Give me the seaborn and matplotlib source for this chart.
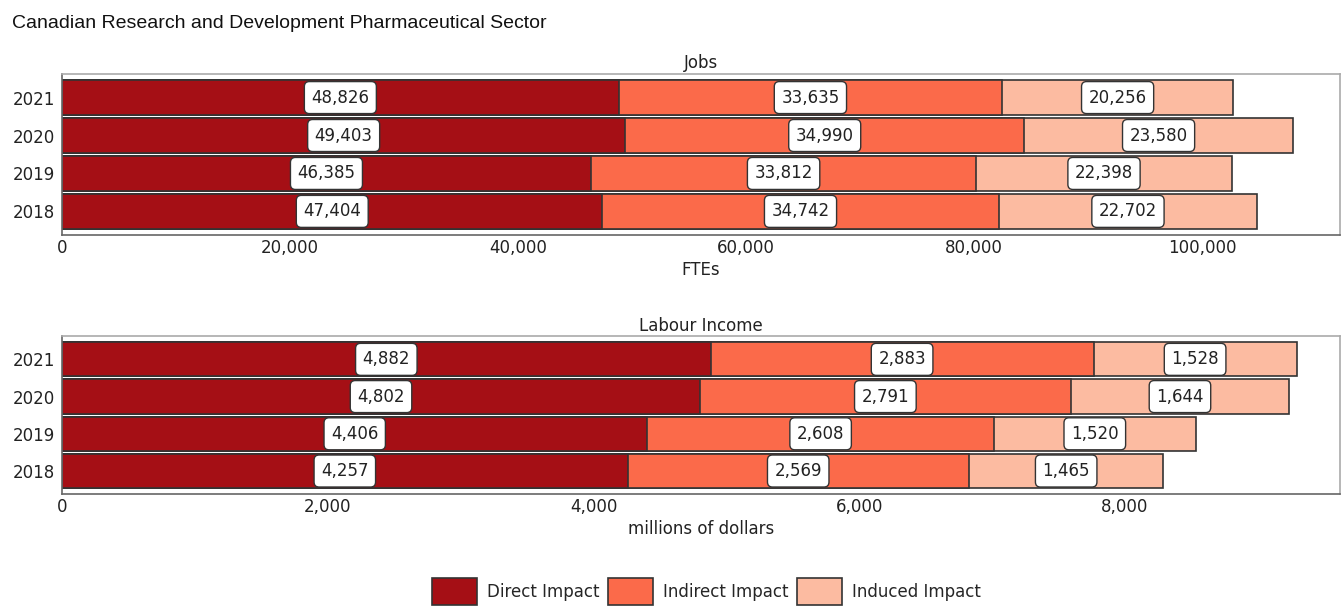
import numpy as np
import pandas as pd
import matplotlib
matplotlib.use("Agg")
import matplotlib.pyplot as plt
from matplotlib.patches import Patch
import seaborn as sns

years = ["2021", "2020", "2019", "2018"]
components = ["Direct Impact", "Indirect Impact", "Induced Impact"]
colors = ["#A50F15", "#FB6A4A", "#FCBBA1"]

jobs_direct = [48826, 49403, 46385, 47404]
jobs_indirect = [33635, 34990, 33812, 34742]
jobs_induced = [20256, 23580, 22398, 22702]

income_direct = [4882, 4802, 4406, 4257]
income_indirect = [2883, 2791, 2608, 2569]
income_induced = [1528, 1644, 1520, 1465]

jobs_ticks = [0, 20000, 40000, 60000, 80000, 100000]
income_ticks = [0, 2000, 4000, 6000, 8000]

sns.set_theme(style="white")
plt.rcParams["font.family"] = ["DejaVu Sans"]

fig = plt.figure(figsize=(13.43, 6.07), dpi=100)
ax_jobs = fig.add_axes([0.0462, 0.613, 0.9516, 0.265])
ax_inc = fig.add_axes([0.0462, 0.186, 0.9516, 0.260])


def stacked(ax, parts, title, xlabel, ticks, xmax):
    df = pd.DataFrame({"year": years})
    cum = np.zeros(len(years))
    lefts = []
    for name, vals in zip(components, parts):
        lefts.append(cum.copy())
        cum = cum + np.array(vals)
        df[name] = cum
    # draw cumulative totals back to front so each segment shows on top
    for name, col in reversed(list(zip(components, colors))):
        sns.barplot(data=df, x=name, y="year", order=years, color=col,
                    orient="h", width=0.92, edgecolor="#333333",
                    linewidth=1.2, saturation=1, ax=ax)
    for left, vals in zip(lefts, parts):
        for i, v in enumerate(vals):
            ax.text(left[i] + v / 2, i, f"{v:,}", ha="center", va="center",
                    fontsize=12, color="#222222",
                    bbox=dict(boxstyle="round,pad=0.42,rounding_size=0.3",
                              fc="white", ec="#333333", lw=1.0))
    ax.set_xlim(0, xmax)
    ax.set_ylim(3.62, -0.62)
    ax.set_xticks(ticks)
    ax.set_xticklabels([f"{t:,}" for t in ticks])
    ax.set_xlabel(xlabel, fontsize=12, color="#222222", labelpad=3)
    ax.set_ylabel("")
    ax.set_title(title, fontsize=12, color="#222222", pad=4)
    ax.tick_params(axis="x", direction="in", length=6, width=1,
                   color="#444444", labelsize=12, labelcolor="#222222", pad=3)
    ax.tick_params(axis="y", length=0, labelsize=12, labelcolor="#222222", pad=5)
    for side, sp in ax.spines.items():
        sp.set_visible(True)
        sp.set_color("#aaaaaa")
        sp.set_linewidth(1.2)
    ax.spines["bottom"].set_color("#666666")
    ax.spines["left"].set_color("#666666")


stacked(ax_jobs, [jobs_direct, jobs_indirect, jobs_induced], "Jobs", "FTEs",
        jobs_ticks, 112100)
stacked(ax_inc, [income_direct, income_indirect, income_induced], "Labour Income",
        "millions of dollars", income_ticks, 9620)

fig.text(0.009, 0.962, "Canadian Research and Development Pharmaceutical Sector",
         fontsize=14, family=["Liberation Sans", "DejaVu Sans"],
         color="#111111", ha="left", va="center")

handles = [Patch(facecolor=c, edgecolor="#333333", linewidth=1.2) for c in colors]
fig.legend(handles, components, loc="center", bbox_to_anchor=(0.526, 0.025),
           ncol=3, frameon=False, fontsize=12, handlelength=2.7,
           handleheight=2.1, handletextpad=0.6, columnspacing=0.5)

fig.savefig("out.png", dpi=100)
